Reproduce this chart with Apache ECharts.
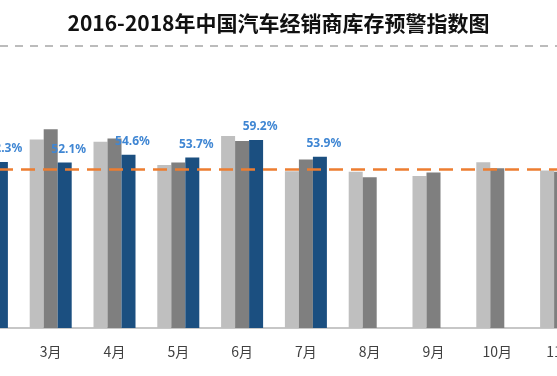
<!DOCTYPE html>
<html>
<head>
<meta charset="utf-8">
<script src="https://cdn.jsdelivr.net/npm/echarts@6/dist/echarts.min.js"></script>
<style>
  html, body { margin: 0; padding: 0; background: #fff; }
  #chart { width: 557px; height: 376px; }
</style>
</head>
<body>
<div id="chart"></div>
<script>
// 月份（图片左右两侧被裁切，只露出2月到11月）
const months = ['2月', '3月', '4月', '5月', '6月', '7月', '8月', '9月', '10月', '11月'];

// 库存预警指数（%）
const data2016 = [null, 59.4, 58.7, 51.3, 60.5, 49.4, 49.2, 47.9, 52.2, 49.6];
const data2017 = [null, 62.6, 59.7, 52.1, 58.9, 53.1, 47.5, 49.0, 50.3, 49.2];
const data2018 = [52.3, 52.1, 54.6, 53.7, 59.2, 53.9, null, null, null, null];

// 警戒线
const warnLine = 50;

const chart = echarts.init(document.getElementById('chart'));

const option = {
  backgroundColor: '#fff',
  animation: false,
  title: {
    text: '2016-2018年中国汽车经销商库存预警指数图',
    left: 'center',
    top: 8,
    textStyle: {
      fontFamily: 'Noto Sans CJK SC',
      fontSize: 21,
      fontWeight: 'bold',
      color: '#111'
    }
  },
  graphic: [
    {
      type: 'line',
      shape: { x1: 0, y1: 46, x2: 557, y2: 46 },
      style: { stroke: '#a6a6a6', lineWidth: 1.5, lineDash: [8, 7] }
    }
  ],
  grid: {
    left: -45,
    right: -36,
    top: 74,
    bottom: 48,
    outerBoundsMode: 'none',
    containLabel: false
  },
  xAxis: {
    type: 'category',
    data: months,
    axisLine: { lineStyle: { color: '#b4b4b4', width: 1.5 } },
    axisTick: { length: 4, lineStyle: { color: '#a6a6a6' } },
    axisLabel: {
      fontFamily: 'Noto Sans CJK SC',
      fontSize: 14,
      color: '#404040',
      margin: 17
    }
  },
  yAxis: {
    type: 'value',
    min: 0,
    max: 80,
    show: false
  },
  series: [
    {
      name: '2016年',
      type: 'bar',
      data: data2016,
      barWidth: 14,
      barGap: 0,
      itemStyle: { color: '#bfbfbf' },
      markLine: {
        silent: true,
        symbol: 'none',
        label: { show: false },
        lineStyle: { color: '#ed7d31', type: [14, 8], width: 2.5 },
        data: [{ yAxis: warnLine }]
      }
    },
    {
      name: '2017年',
      type: 'bar',
      data: data2017,
      barWidth: 14,
      barGap: 0,
      itemStyle: { color: '#7f7f7f' }
    },
    {
      name: '2018年',
      type: 'bar',
      data: data2018,
      barWidth: 14,
      barGap: 0,
      itemStyle: { color: '#1b4f80' },
      label: {
        show: true,
        position: 'top',
        distance: 7,
        offset: [4, 0],
        formatter: '{c}%',
        fontFamily: 'Noto Sans',
        fontSize: 12,
        fontWeight: 'bold',
        color: '#3f86d3'
      }
    }
  ]
};

chart.setOption(option);
</script>
</body>
</html>
